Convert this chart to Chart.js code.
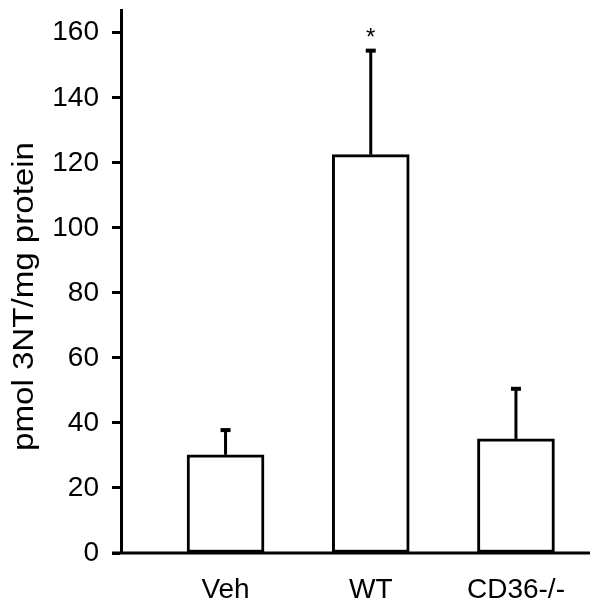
<!DOCTYPE html>
<html>
<head>
<meta charset="utf-8">
<script src="https://cdn.jsdelivr.net/npm/chart.js@4/dist/chart.umd.min.js"></script>
<style>
  html, body { margin: 0; padding: 0; background: #fff; }
  canvas { display: block; }
</style>
</head>
<body>
<canvas id="chart" width="602" height="612"></canvas>
<script>
const categories = ['Veh', 'WT', 'CD36-/-'];
const means = [30.2, 122.5, 35.1];
const errors = [7.6, 32, 15.4];
const yTicks = [0, 20, 40, 60, 80, 100, 120, 140, 160];
const marks = ['', '*', ''];
const yTitle = 'pmol 3NT/mg protein';

const FONT = 'Arial, "Liberation Sans", sans-serif';

// error bars (upper half only), significance marks, y title
const errorBars = {
    id: 'errorBars',
    afterDatasetsDraw(chart) {
        const ctx = chart.ctx;
        const xs = chart.scales.x, ys = chart.scales.y;
        ctx.save();
        ctx.strokeStyle = '#000';
        ctx.fillStyle = '#000';
        means.forEach((m, i) => {
            const x = xs.getPixelForValue(i + 1);
            const y0 = ys.getPixelForValue(m);
            const y1 = ys.getPixelForValue(m + errors[i]);
            ctx.lineWidth = 3;
            ctx.beginPath();
            ctx.moveTo(x, y0);
            ctx.lineTo(x, y1);
            ctx.stroke();
            ctx.lineWidth = 4;
            ctx.beginPath();
            ctx.moveTo(x - 5, y1);
            ctx.lineTo(x + 5, y1);
            ctx.stroke();
            if (marks[i]) {
                ctx.font = '24px ' + FONT;
                ctx.textAlign = 'center';
                ctx.textBaseline = 'alphabetic';
                ctx.fillText(marks[i], x, y1 - 6);
            }
        });
        // x axis line runs a little left of the y axis
        const yb = ys.getPixelForValue(0);
        ctx.lineWidth = 3;
        ctx.beginPath();
        ctx.moveTo(chart.chartArea.left - 9, yb);
        ctx.lineTo(chart.chartArea.right, yb);
        ctx.stroke();

        // rotated y title, a bit stretched along its length like the original
        ctx.font = '29px ' + FONT;
        const w = ctx.measureText(yTitle).width;
        ctx.translate(25, (chart.chartArea.top + chart.chartArea.bottom) / 2 + 15);
        ctx.rotate(-Math.PI / 2);
        ctx.scale(309 / w, 1);
        ctx.textAlign = 'center';
        ctx.textBaseline = 'middle';
        ctx.fillText(yTitle, 0, 0);
        ctx.restore();
    }
};

new Chart(document.getElementById('chart'), {
    type: 'bar',
    data: {
        datasets: [{
            data: means.map((v, i) => ({ x: i + 1, y: v })),
            backgroundColor: '#fff',
            borderColor: '#000',
            borderWidth: 3,
            borderSkipped: false,
            barThickness: 77
        }]
    },
    options: {
        responsive: false,
        animation: false,
        layout: { padding: { top: 10, right: 12, left: 0, bottom: 0 } },
        plugins: { legend: { display: false }, tooltip: { enabled: false } },
        scales: {
            x: {
                type: 'linear',
                offset: false,
                min: 0.28,
                max: 3.51,
                afterBuildTicks: s => { s.ticks = categories.map((c, i) => ({ value: i + 1 })); },
                afterFit: s => { s.height = 59; s.paddingLeft = 0; s.paddingRight = 0; },
                ticks: {
                    callback: v => categories[v - 1],
                    color: '#000',
                    font: { family: FONT, size: 28 },
                    padding: 20,
                    maxRotation: 0
                },
                grid: { display: false, drawTicks: false, offset: false },
                border: { display: false }
            },
            y: {
                min: 0,
                max: 167,
                afterBuildTicks: s => { s.ticks = yTicks.map(v => ({ value: v })); },
                afterFit: s => { s.width = 121; s.paddingTop = 0; s.paddingBottom = 0; },
                ticks: {
                    color: '#000',
                    font: { family: FONT, size: 28 },
                    padding: 13
                },
                grid: {
                    drawOnChartArea: false,
                    color: '#000',
                    tickLength: 9,
                    tickWidth: 3
                },
                border: { color: '#000', width: 3 }
            }
        }
    },
    plugins: [errorBars]
});
</script>
</body>
</html>
